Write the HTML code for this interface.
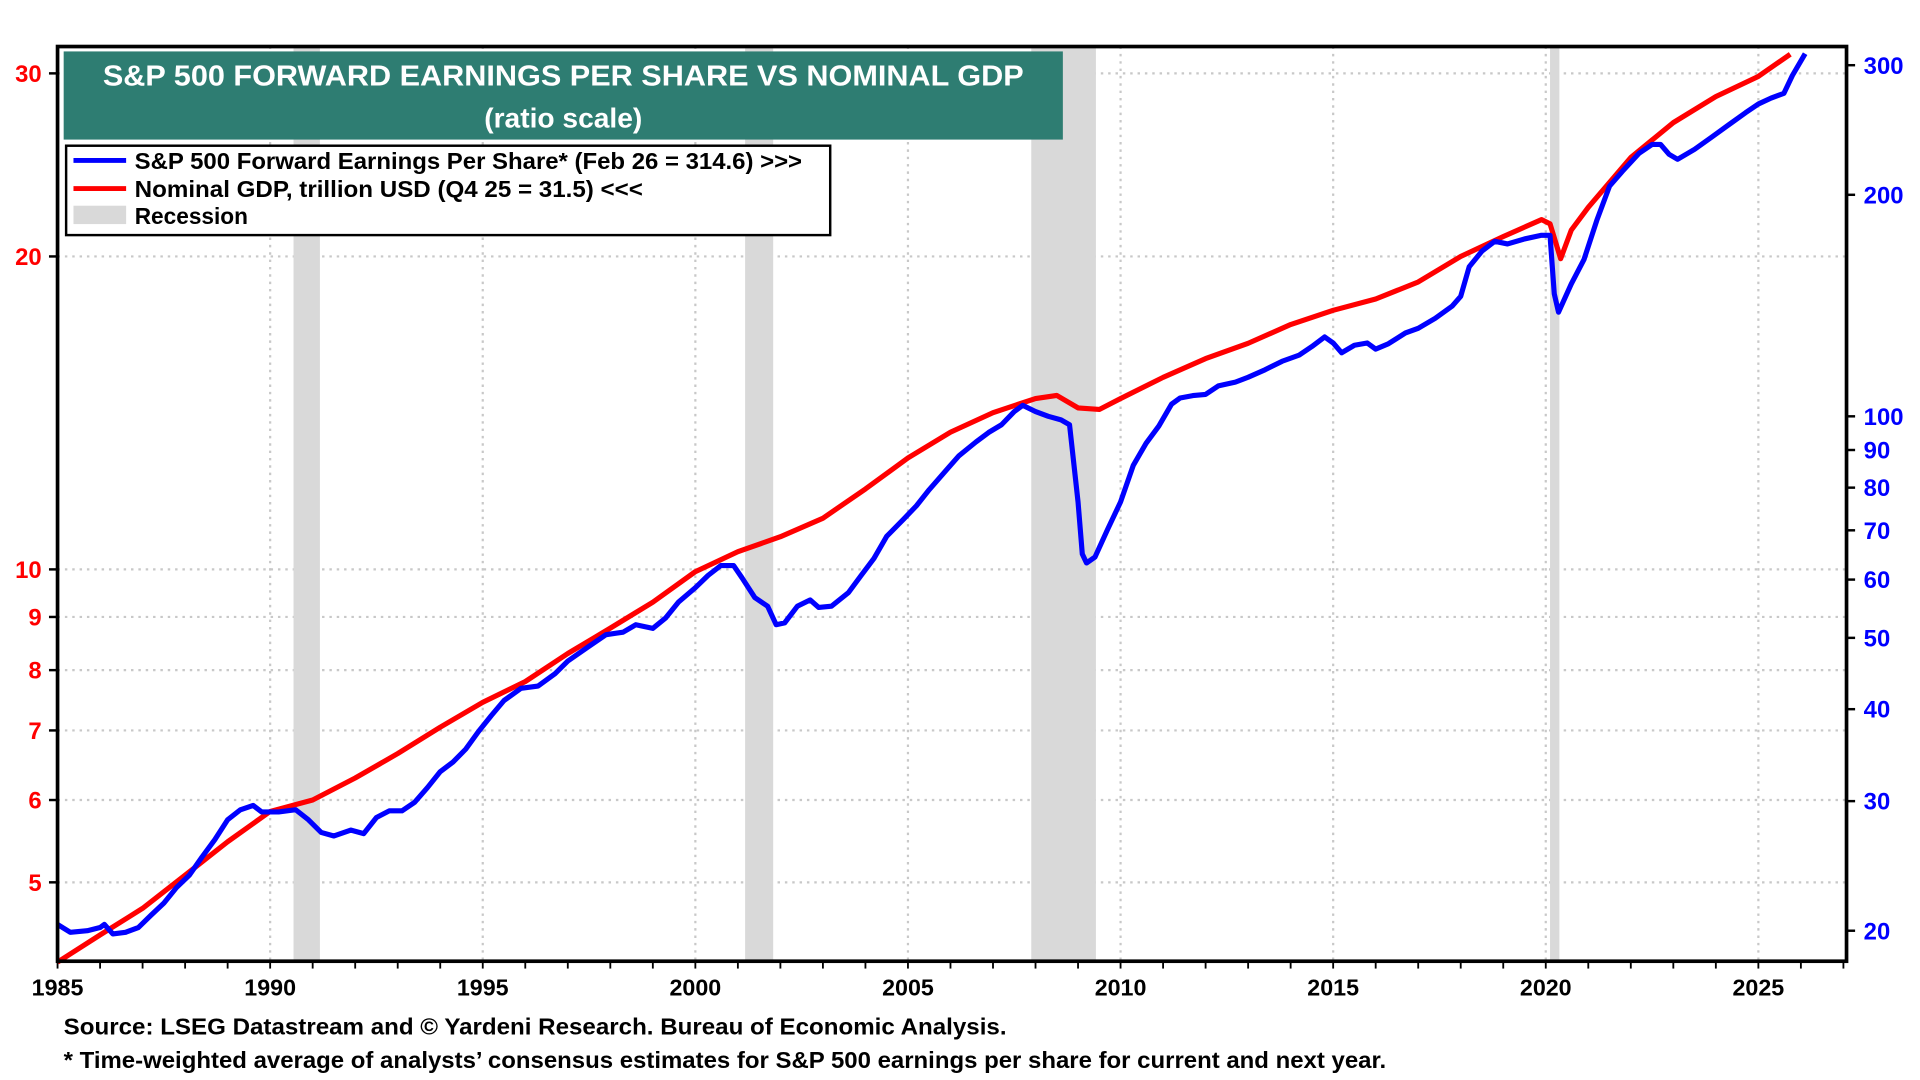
<!DOCTYPE html>
<html><head><meta charset="utf-8"><style>
html,body{margin:0;padding:0;background:#fff;width:1920px;height:1080px;overflow:hidden}
svg{display:block;font-family:"Liberation Sans",Arial,sans-serif;font-weight:bold}
</style></head><body>
<svg id="chart" width="1920" height="1080" viewBox="0 0 1568 882" xmlns="http://www.w3.org/2000/svg">
<g id="grid"></g>
<g id="rec"></g>
<g id="series"></g>
<rect x="47" y="38" width="1461" height="747" fill="none" stroke="#000" stroke-width="3"/>
<g id="axes"></g>
<g>
<rect x="52" y="42" width="816" height="72" fill="#2e7d72"/>
<text x="460" y="70" text-anchor="middle" fill="#fff" font-size="23.5" textLength="752" lengthAdjust="spacingAndGlyphs">S&amp;P 500 FORWARD EARNINGS PER SHARE VS NOMINAL GDP</text>
<text x="460" y="104" text-anchor="middle" fill="#fff" font-size="23">(ratio scale)</text>
</g>
<g>
<rect x="54" y="119" width="624" height="73" fill="#fff" stroke="#000" stroke-width="2"/>
<line x1="60" y1="131" x2="103" y2="131" stroke="#0000ff" stroke-width="4"/>
<text x="110" y="138" font-size="18.5" textLength="545" lengthAdjust="spacingAndGlyphs">S&amp;P 500 Forward Earnings Per Share* (Feb 26 = 314.6) &gt;&gt;&gt;</text>
<line x1="60" y1="154" x2="103" y2="154" stroke="#ff0000" stroke-width="4"/>
<text x="110" y="161" font-size="18.5" textLength="415" lengthAdjust="spacingAndGlyphs">Nominal GDP, trillion USD (Q4 25 = 31.5) &lt;&lt;&lt;</text>
<rect x="60" y="168" width="43" height="15" fill="#d9d9d9"/>
<text x="110" y="183" font-size="18.5">Recession</text>
</g>
<text x="52" y="845" font-size="18.5" textLength="770" lengthAdjust="spacingAndGlyphs">Source: LSEG Datastream and © Yardeni Research.  Bureau of Economic Analysis.</text>
<text x="52" y="872" font-size="18.5" textLength="1080" lengthAdjust="spacingAndGlyphs">* Time-weighted average of analysts’ consensus estimates for S&amp;P 500 earnings per share for current and next year.</text>
</svg>
<script>
const gdpYears=[1985.0,1986,1987,1988,1989,1990,1991,1992,1993,1994,1995,1996,1997,1998,1999,2000,2001,2002,2003,2004,2005,2006,2007,2008.0,2008.5,2009.0,2009.5,2010,2011,2012,2013,2014,2015,2016,2017,2018,2019,2019.9,2020.1,2020.35,2020.6,2021,2022,2023,2024,2025,2025.75];
const gdpValues=[4.19,4.45,4.72,5.08,5.47,5.85,6.0,6.3,6.65,7.05,7.45,7.8,8.3,8.78,9.3,9.95,10.4,10.75,11.2,11.95,12.8,13.55,14.15,14.6,14.7,14.3,14.25,14.6,15.3,15.95,16.5,17.2,17.75,18.2,18.9,20.0,20.9,21.7,21.5,19.9,21.2,22.3,24.9,26.9,28.5,29.8,31.3];
const epsYears=[1985.0,1985.3,1985.7,1986.0,1986.1,1986.3,1986.6,1986.9,1987.2,1987.5,1987.8,1988.1,1988.4,1988.7,1989.0,1989.3,1989.6,1989.8,1990.2,1990.6,1990.9,1991.2,1991.5,1991.9,1992.2,1992.5,1992.8,1993.1,1993.4,1993.7,1994.0,1994.3,1994.6,1994.9,1995.2,1995.5,1995.9,1996.3,1996.7,1997.0,1997.5,1997.9,1998.3,1998.6,1999.0,1999.3,1999.6,2000.0,2000.3,2000.6,2000.9,2001.1,2001.4,2001.7,2001.9,2002.1,2002.4,2002.7,2002.9,2003.2,2003.6,2003.9,2004.2,2004.5,2004.9,2005.2,2005.5,2005.9,2006.2,2006.6,2006.9,2007.2,2007.5,2007.7,2008.0,2008.3,2008.6,2008.8,2009.0,2009.1,2009.2,2009.4,2009.7,2010.0,2010.3,2010.6,2010.9,2011.2,2011.4,2011.7,2012.0,2012.3,2012.7,2013.0,2013.4,2013.8,2014.2,2014.5,2014.8,2015.0,2015.2,2015.5,2015.8,2016.0,2016.3,2016.7,2017.0,2017.4,2017.8,2018.0,2018.2,2018.5,2018.8,2019.1,2019.5,2019.9,2020.1,2020.2,2020.3,2020.6,2020.9,2021.2,2021.5,2021.8,2022.2,2022.5,2022.7,2022.9,2023.1,2023.5,2023.9,2024.3,2024.7,2025.0,2025.3,2025.6,2025.8,2026.1];
const epsValues=[20.4,19.9,20.0,20.2,20.4,19.8,19.9,20.2,21.0,21.8,22.9,23.8,25.2,26.6,28.3,29.2,29.6,29.0,29.0,29.2,28.3,27.2,26.9,27.4,27.1,28.5,29.1,29.1,29.9,31.3,32.9,33.9,35.3,37.3,39.2,41.1,42.7,43.0,44.7,46.5,48.7,50.5,50.9,52.1,51.5,53.2,55.9,58.5,60.8,62.7,62.7,60.3,56.7,55.2,52.1,52.4,55.2,56.3,55.0,55.2,57.6,60.8,64.1,68.7,72.5,75.6,79.5,84.5,88.4,92.3,95.1,97.4,101.5,103.5,101.5,100,98.9,97.4,76.5,65,63.2,64.4,70.3,76.5,85.8,91.9,97,103.9,105.9,106.7,107.1,110,111.3,113,115.7,118.8,121.1,124.4,128.2,125.8,122,124.9,125.8,123.4,125.5,129.8,131.7,135.9,141.2,145.6,159.7,167.7,172.9,171.5,174.2,176.2,176.2,146.7,138.5,151.3,163.4,184.6,205.5,215.2,227.9,234.1,234.1,227,223.5,230.6,239.5,248.9,258.6,265.7,270.7,274.7,290.5,311];
const recStart=[1990.55,2001.17,2007.9,2020.1];
const recEnd=[1991.17,2001.83,2009.42,2020.32];
const xTicks=[1985,1990,1995,2000,2005,2010,2015,2020,2025];
const leftTicks=[5,6,7,8,9,10,20,30];
const rightTicks=[20,30,40,50,60,70,80,90,100,200,300];

const NS="http://www.w3.org/2000/svg";
const L=47,R=1508,T=38,B=785;
const x=y=>47+(y-1985)*34.725;
const yL=v=>465-849*Math.log10(v/10);
const yR=v=>340-601*Math.log10(v/100);
function mk(tag,attrs,parent){const e=document.createElementNS(NS,tag);for(const k in attrs)e.setAttribute(k,attrs[k]);parent.appendChild(e);return e;}
const grid=document.getElementById('grid'),rec=document.getElementById('rec'),ser=document.getElementById('series'),axes=document.getElementById('axes');
leftTicks.forEach(v=>{const g=mk('line',{x1:L,x2:R,y1:yL(v),y2:yL(v),stroke:'#c8c8c8','stroke-width':1.8,'stroke-dasharray':'2 4'},grid);


const t=mk('line',{x1:L-7,x2:L,y1:yL(v),y2:yL(v),stroke:'#000','stroke-width':2},axes);


const tx=mk('text',{x:L-13,y:yL(v)+7,'text-anchor':'end',fill:'#ff0000','font-size':19.5},axes);tx.textContent=v;

});
xTicks.forEach(yr=>{const g=mk('line',{x1:x(yr),x2:x(yr),y1:T,y2:B,stroke:'#c8c8c8','stroke-width':1.8,'stroke-dasharray':'2 4'},grid);


const tx=mk('text',{x:x(yr),y:813,'text-anchor':'middle',fill:'#000','font-size':19},axes);tx.textContent=yr;

});
for(let yr=1985;yr<=2027;yr++){const t=mk('line',{x1:x(yr),x2:x(yr),y1:B,y2:B+6,stroke:'#000','stroke-width':1.5},axes);

}
rightTicks.forEach(v=>{const t=mk('line',{x1:R,x2:R+7,y1:yR(v),y2:yR(v),stroke:'#000','stroke-width':2},axes);


const tx=mk('text',{x:R+14,y:yR(v)+7,fill:'#0000ff','font-size':19.5},axes);tx.textContent=v;

});
recStart.forEach((s,i)=>{const r=mk('rect',{x:x(s),y:T,width:x(recEnd[i])-x(s),height:B-T,fill:'#d9d9d9'},rec);

});
const gp=mk('polyline',{points:gdpYears.map((yr,i)=>x(yr)+','+yL(gdpValues[i])).join(' '),fill:'none',stroke:'#ff0000','stroke-width':4.2,'stroke-linejoin':'round'},ser);


const ep=mk('polyline',{points:epsYears.map((yr,i)=>x(yr)+','+yR(epsValues[i])).join(' '),fill:'none',stroke:'#0000ff','stroke-width':4.2,'stroke-linejoin':'round'},ser);


</script>
</body></html>
